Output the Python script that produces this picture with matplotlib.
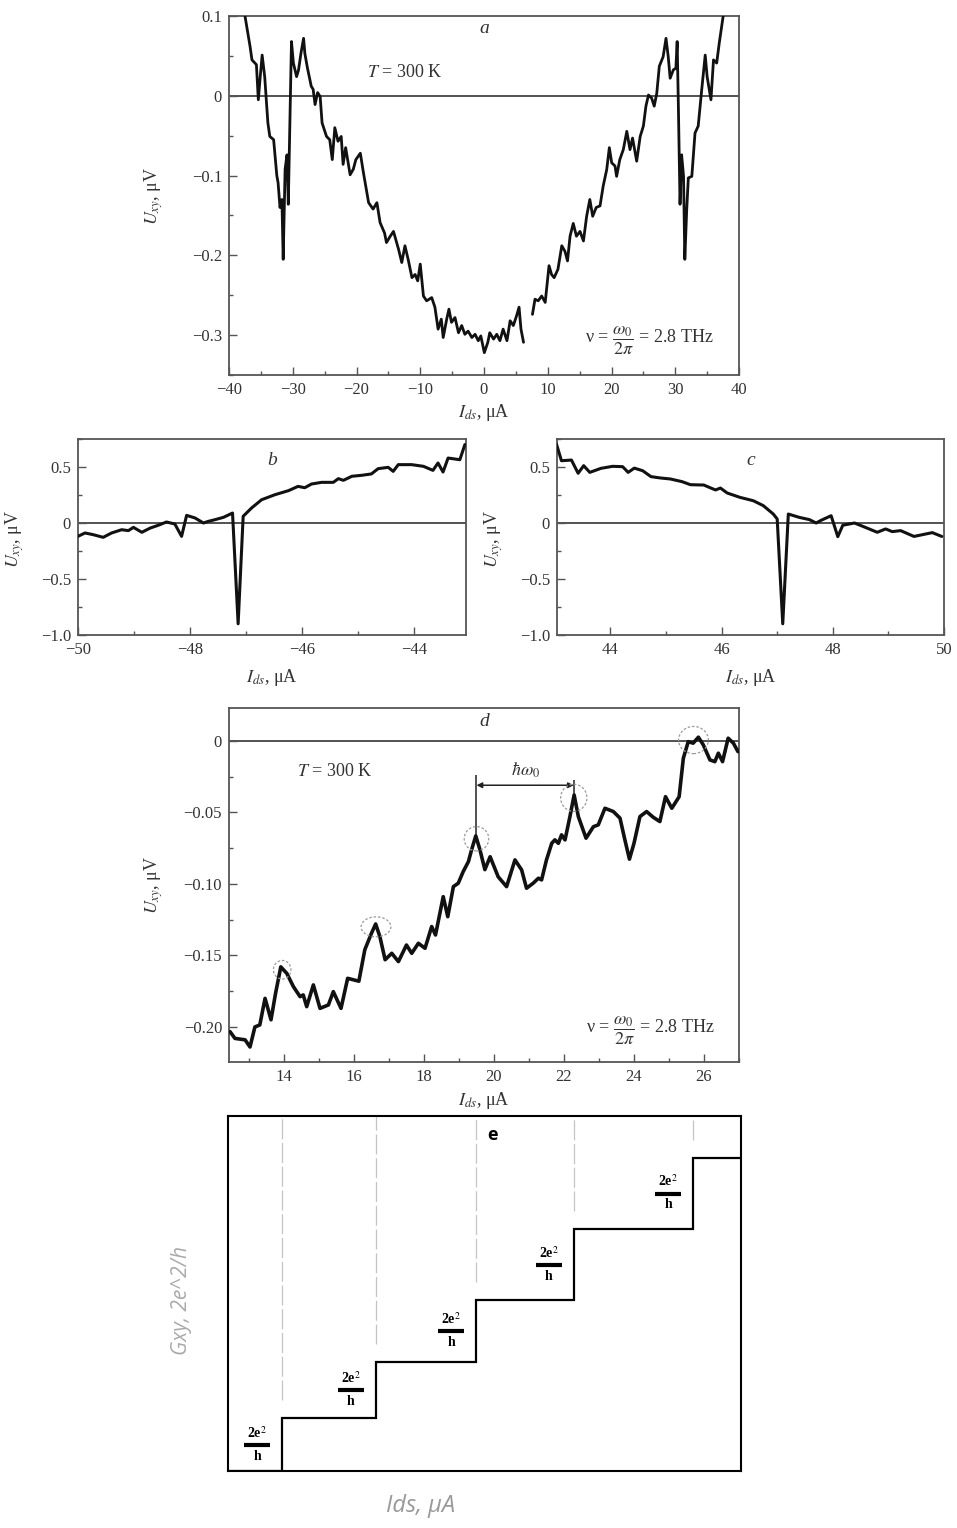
import numpy as np
import matplotlib
matplotlib.use('Agg')
import matplotlib.pyplot as plt
from matplotlib.patches import Ellipse
from matplotlib.ticker import MultipleLocator
from matplotlib.transforms import offset_copy

plt.rcParams['font.family'] = ['Liberation Serif', 'DejaVu Serif']
plt.rcParams['mathtext.fontset'] = 'stix'

# --- panel a: U_xy vs I_ds, full sweep (NaN = gap in the trace)
a_x = [-37.7, -36.7, -36.4, -35.7, -35.4, -35.1, -34.8, -34.4, -33.9, -33.6, -33.0, -32.5,
       -32.3, -32.0, -31.7, -31.5, -31.2, -30.9, -30.7, -30.4, -30.2, -29.9, -29.4, -29.1,
       -28.7, -28.3, -28.1, -27.7, -27.1, -26.8, -26.5, -26.1, -25.7, -25.4, -24.7, -24.2,
       -23.8, -23.4, -22.9, -22.4, -22.1, -21.7, -21.0, -20.5, -20.1, -19.4, -18.9, -18.1,
       -17.4, -16.8, -16.3, -15.6, -15.3, -14.7, -14.2, -13.4, -12.9, -12.4, -11.9, -11.3,
       -10.8, -10.4, -10.0, -9.5, -9.0, -8.2, -7.7, -7.2, -6.7, -6.4, -5.85, -5.5,
       -5.1, -4.55, -4.0, -3.5, -3.0, -2.5, -1.9, -1.4, -0.9, -0.5, 0.05, 0.6,
       0.9, 1.5, 2.0, 2.5, 3.0, 3.6, 4.1, 4.6, 5.1, 5.5, 5.8, 6.2,
       6.9, 7.6, 8.0, 8.5, 9.05, 9.6, 10.2, 10.6, 11.0, 11.6, 12.2, 12.7,
       13.1, 13.5, 14.0, 14.5, 15.06, 15.6, 16.1, 16.6, 17.05, 17.6, 18.2, 18.7,
       19.25, 19.66, 20.03, 20.55, 20.8, 21.3, 21.85, 22.4, 22.9, 23.3, 23.95, 24.5,
       25.0, 25.4, 25.8, 26.3, 26.7, 27.1, 27.5, 28.1, 28.55, 28.9, 29.2, 29.7,
       30.1, 30.3, 30.5, 30.75, 31.0, 31.3, 31.5, 31.8, 32.05, 32.6, 33.1, 33.6,
       34.15, 34.7, 35.0, 35.6, 36.0, 36.5, 36.9, 37.5, 37.7]
a_y = [0.11, 0.062, 0.045, 0.039, -0.005, 0.024, 0.051, 0.024, -0.034, -0.051, -0.055, -0.100,
       -0.109, -0.140, -0.130, -0.205, -0.092, -0.074, -0.136, -0.017, 0.068, 0.041, 0.024, 0.032,
       0.054, 0.072, 0.053, 0.035, 0.012, 0.008, -0.011, 0.004, -0.001, -0.034, -0.051, -0.055,
       -0.080, -0.040, -0.057, -0.051, -0.086, -0.065, -0.099, -0.092, -0.080, -0.072, -0.097, -0.134,
       -0.142, -0.134, -0.159, -0.172, -0.184, -0.176, -0.170, -0.1925, -0.209, -0.188, -0.205, -0.228,
       -0.224, -0.232, -0.211, -0.251, -0.257, -0.253, -0.265, -0.2925, -0.280, -0.303, -0.280, -0.2675,
       -0.284, -0.278, -0.297, -0.288, -0.299, -0.295, -0.303, -0.299, -0.307, -0.301, -0.322, -0.309,
       -0.297, -0.305, -0.299, -0.307, -0.2925, -0.307, -0.282, -0.288, -0.276, -0.265, -0.2925, -0.309,
       np.nan, -0.274, -0.255, -0.257, -0.251, -0.259, -0.213, -0.224, -0.228, -0.2175, -0.188, -0.195,
       -0.207, -0.176, -0.160, -0.176, -0.170, -0.182, -0.151, -0.130, -0.151, -0.140, -0.138, -0.113,
       -0.0925, -0.065, -0.084, -0.088, -0.101, -0.080, -0.0675, -0.0446, -0.0675, -0.053, -0.082, -0.051,
       -0.038, -0.013, 0.001, -0.003, -0.013, 0.003, 0.037, 0.049, 0.072, 0.049, 0.022, 0.0325,
       0.0346, 0.068, -0.0175, -0.136, -0.074, -0.101, -0.205, -0.1425, -0.103, -0.101, -0.0467, -0.038,
       0.0075, 0.051, 0.024, -0.005, 0.045, 0.041, 0.066, 0.099, 0.11]

# --- panel b: negative current end
b_x = [-50.0, -49.875, -49.73, -49.55, -49.4, -49.22, -49.1, -49.01, -48.86, -48.71, -48.57, -48.42,
       -48.27, -48.15, -48.06, -47.91, -47.76, -47.67, -47.55, -47.4, -47.24, -47.14, -47.05, -46.9,
       -46.72, -46.48, -46.24, -46.07, -45.95, -45.83, -45.65, -45.44, -45.35, -45.26, -45.11, -44.93,
       -44.76, -44.64, -44.46, -44.37, -44.28, -44.04, -43.83, -43.66, -43.57, -43.48, -43.39, -43.18,
       -43.09]
b_y = [-0.119, -0.089, -0.104, -0.128, -0.089, -0.060, -0.068, -0.039, -0.083, -0.045, -0.021, 0.009,
       -0.009, -0.119, 0.068, 0.045, 0.0, 0.015, 0.030, 0.051, 0.089, -0.90, 0.060, 0.134,
       0.208, 0.253, 0.289, 0.327, 0.315, 0.348, 0.363, 0.363, 0.396, 0.381, 0.417, 0.426,
       0.438, 0.485, 0.497, 0.461, 0.521, 0.521, 0.506, 0.470, 0.536, 0.455, 0.580, 0.565,
       0.700]

# --- panel c: positive current end
c_x = [43.03, 43.12, 43.3, 43.42, 43.52, 43.63, 43.83, 44.04, 44.22, 44.32, 44.43, 44.58,
       44.73, 44.9, 45.08, 45.29, 45.44, 45.68, 45.89, 45.98, 46.1, 46.33, 46.57, 46.75,
       46.93, 47.0, 47.1, 47.2, 47.4, 47.58, 47.7, 47.79, 47.97, 48.09, 48.18, 48.39,
       48.57, 48.8, 48.95, 49.07, 49.22, 49.46, 49.79, 49.96]
c_y = [0.705, 0.556, 0.562, 0.444, 0.512, 0.452, 0.488, 0.506, 0.503, 0.452, 0.490, 0.467,
       0.414, 0.402, 0.393, 0.369, 0.342, 0.339, 0.295, 0.312, 0.268, 0.229, 0.199, 0.155,
       0.080, 0.036, -0.90, 0.080, 0.050, 0.030, 0.0, 0.024, 0.065, -0.122, -0.020, 0.0,
       -0.036, -0.083, -0.053, -0.077, -0.068, -0.120, -0.086, -0.120]

# --- panel d: zoom 12.5..27 uA
d_x = [12.46, 12.6, 12.89, 13.03, 13.17, 13.31, 13.46, 13.63, 13.76, 13.91, 14.08, 14.27,
       14.46, 14.55, 14.65, 14.84, 15.03, 15.27, 15.41, 15.63, 15.82, 15.98, 16.14, 16.31,
       16.5, 16.62, 16.74, 16.89, 17.08, 17.27, 17.5, 17.65, 17.84, 18.03, 18.22, 18.33,
       18.55, 18.68, 18.84, 18.98, 19.12, 19.27, 19.36, 19.48, 19.6, 19.74, 19.89, 20.12,
       20.36, 20.6, 20.79, 20.93, 21.12, 21.27, 21.36, 21.5, 21.65, 21.74, 21.84, 21.93,
       22.03, 22.17, 22.29, 22.41, 22.63, 22.84, 22.98, 23.17, 23.41, 23.6, 23.74, 23.87,
       24.0, 24.17, 24.36, 24.55, 24.74, 24.9, 25.08, 25.29, 25.41, 25.55, 25.69, 25.84,
       25.98, 26.17, 26.31, 26.41, 26.53, 26.69, 26.84, 26.97]
d_y = [-0.2033, -0.208, -0.209, -0.214, -0.200, -0.1986, -0.180, -0.195, -0.1765, -0.158, -0.1625, -0.1718,
       -0.1788, -0.1776, -0.1858, -0.1706, -0.187, -0.1846, -0.1753, -0.187, -0.166, -0.167, -0.168, -0.146,
       -0.1345, -0.128, -0.1368, -0.153, -0.1485, -0.1543, -0.1427, -0.1485, -0.1415, -0.145, -0.1298, -0.1357,
       -0.1089, -0.1229, -0.1019, -0.0995, -0.0914, -0.0844, -0.0762, -0.0664, -0.0762, -0.090, -0.081, -0.095,
       -0.1019, -0.0832, -0.0902, -0.103, -0.0995, -0.096, -0.0972, -0.0832, -0.0716, -0.0692, -0.0716, -0.0657,
       -0.0692, -0.0529, -0.0378, -0.0529, -0.068, -0.060, -0.0587, -0.0471, -0.0494, -0.054, -0.0692, -0.0827,
       -0.0716, -0.0529, -0.0494, -0.0534, -0.0564, -0.039, -0.0471, -0.039, -0.0121, -0.0005, -0.0016, 0.0026,
       -0.0028, -0.0133, -0.0145, -0.0086, -0.0145, 0.0019, -0.0016, -0.0075]

# peaks marked in d = step positions in e
peak_x = [13.95, 16.63, 19.5, 22.28, 25.7]

# --- panel e: schematic conductance staircase
e_xlim = (12.4, 27.06)
e_levels = [0, 0.53, 1.09, 1.71, 2.42, 3.13]

fig = plt.figure(figsize=(9.57, 15.28), dpi=100)
W, H = 957.0, 1528.0


def add_ax(l, r, t, b):
    return fig.add_axes([l / W, 1 - b / H, (r - l) / W, (b - t) / H])


def style(ax):
    for s in ax.spines.values():
        s.set_color('#555555')
        s.set_linewidth(1.3)
    ax.tick_params(which='both', direction='in', top=False, right=False,
                   color='#555555', labelcolor='#333333', labelsize=12, width=1)
    ax.tick_params(which='major', length=6, pad=5)
    ax.tick_params(which='minor', length=3)
    ax.axhline(0, color='#444444', lw=1.3, zorder=1)


def fmt(v, pos):
    return ('%g' % v).replace('-', '\u2212')


def yfmt(nd):
    return lambda v, p: '0' if abs(v) < 1e-9 else ('%.*f' % (nd, v)).replace('-', '\u2212')


ylab = r'$U_{xy}$, μV'
xlab = r'$I_{ds}$, μA'
nu_txt = 'ν = ' + r'$\dfrac{\omega_0}{2\pi}$' + ' = 2.8 THz'
line_kw = dict(color='#111111', zorder=3, solid_joinstyle='round', solid_capstyle='round')

# a
ax = add_ax(229, 739, 16, 375)
ax.plot(a_x, a_y, lw=2.0, **line_kw)
ax.set_xlim(-40, 40)
ax.set_ylim(-0.35, 0.1)
ax.xaxis.set_major_locator(MultipleLocator(10))
ax.xaxis.set_minor_locator(MultipleLocator(5))
ax.yaxis.set_major_locator(MultipleLocator(0.1))
ax.yaxis.set_minor_locator(MultipleLocator(0.05))
ax.xaxis.set_major_formatter(fmt)
ax.yaxis.set_major_formatter(yfmt(1))
style(ax)
ax.set_xlabel(xlab, fontsize=13, color='#333333')
ax.set_ylabel(ylab, fontsize=13, color='#333333')
ax.xaxis.set_label_coords(0.5, -0.075)
ax.yaxis.set_label_coords(-0.125, 0.5)
ax.text(0.5, 0.964, 'a', transform=ax.transAxes, ha='center', va='center',
        fontsize=14, style='italic', color='#333333')
ax.text(-12.4, 0.029, r'$T$ = 300 K', ha='center', va='center', fontsize=13, color='#333333')
ax.text(26.0, -0.307, nu_txt, ha='center', va='center', fontsize=13, color='#333333')

# b and c
for l, r, xs, ys, xl, lab, ticks in [(78, 466, b_x, b_y, (-50, -43.07), 'b', [-50, -48, -46, -44]),
                                      (557, 944, c_x, c_y, (43.04, 50), 'c', [44, 46, 48, 50])]:
    ax = add_ax(l, r, 439, 635)
    ax.plot(xs, ys, lw=2.2, **line_kw)
    ax.set_xlim(*xl)
    ax.set_ylim(-1.0, 0.75)
    ax.set_xticks(ticks)
    ax.xaxis.set_minor_locator(MultipleLocator(1))
    ax.yaxis.set_major_locator(MultipleLocator(0.5))
    ax.yaxis.set_minor_locator(MultipleLocator(0.25))
    ax.xaxis.set_major_formatter(fmt)
    ax.yaxis.set_major_formatter(yfmt(1))
    style(ax)
    ax.set_xlabel(xlab, fontsize=13, color='#333333')
    ax.set_ylabel(ylab, fontsize=13, color='#333333')
    ax.xaxis.set_label_coords(0.5, -0.165)
    ax.yaxis.set_label_coords(-0.134, 0.49)
    ax.text(0.5, 0.892, lab, transform=ax.transAxes, ha='center', va='center',
            fontsize=14, style='italic', color='#333333')

# d
ax = add_ax(229, 739, 708, 1062)
ax.plot(d_x, d_y, lw=2.6, **line_kw)
ax.set_xlim(12.43, 27.0)
ax.set_ylim(-0.2245, 0.023)
ax.xaxis.set_major_locator(MultipleLocator(2))
ax.xaxis.set_minor_locator(MultipleLocator(1))
ax.yaxis.set_major_locator(MultipleLocator(0.05))
ax.yaxis.set_minor_locator(MultipleLocator(0.025))
ax.xaxis.set_major_formatter(fmt)
ax.yaxis.set_major_formatter(yfmt(2))
style(ax)
ax.set_xlabel(xlab, fontsize=13, color='#333333')
ax.set_ylabel(ylab, fontsize=13, color='#333333')
ax.xaxis.set_label_coords(0.5, -0.079)
ax.yaxis.set_label_coords(-0.125, 0.5)
ax.text(0.5, 0.963, 'd', transform=ax.transAxes, ha='center', va='center',
        fontsize=14, style='italic', color='#333333')
ax.text(15.46, -0.0217, r'$T$ = 300 K', ha='center', va='center', fontsize=13, color='#333333')
ax.text(24.46, -0.203, nu_txt, ha='center', va='center', fontsize=13, color='#333333')

peak_y = [max(y for x, y in zip(d_x, d_y) if abs(x - p) < 0.3) for p in peak_x]
sizes = [(0.5, 0.013), (0.85, 0.014), (0.7, 0.017), (0.75, 0.019), (0.85, 0.019)]
for px, py, (w, h) in zip(peak_x, peak_y, sizes):
    ax.add_patch(Ellipse((px, py - 0.002), w, h, fill=False, ec='#9a9a9a', lw=0.9,
                         ls=(0, (2, 1.5)), zorder=4))
# hbar omega bracket between the 3rd and 4th peaks
ax.vlines(peak_x[2], peak_y[2], -0.024, color='#222222', lw=1.1)
ax.vlines(peak_x[3], peak_y[3], -0.027, color='#222222', lw=1.1)
ax.annotate('', xy=(peak_x[2], -0.031), xytext=(peak_x[3], -0.031),
            arrowprops=dict(arrowstyle='<|-|>', color='#222222', lw=1.1,
                            mutation_scale=8, shrinkA=0, shrinkB=0))
ax.text((peak_x[2] + peak_x[3]) / 2, -0.0205, r'$\hbar\omega_0$', ha='center', va='center',
        fontsize=13, color='#333333')

# e
ax = add_ax(228, 741, 1116, 1471)
edges = [e_xlim[0]] + peak_x + [e_xlim[1]]
ax.stairs(e_levels, edges, baseline=None, color='black', lw=1.6, zorder=3)
ax.set_xlim(*e_xlim)
ax.set_ylim(0, 3.55)
ax.set_xticks([])
ax.set_yticks([])
for s in ax.spines.values():
    s.set_color('black')
    s.set_linewidth(1.5)
ax.vlines(peak_x, np.array(e_levels[1:]) + 0.18, 3.55, color='#c4c4c4', lw=0.9,
          linestyles=[(0, (16, 3))])
for i, px in enumerate(peak_x):
    my = (e_levels[i] + e_levels[i + 1]) / 2
    ax.plot(px, my, marker='_', ms=19, mew=3, color='black', clip_on=False,
            transform=offset_copy(ax.transData, fig=fig, x=-25, y=0, units='dots'))
    ax.text(px, my, '2e$^2$', ha='center', va='bottom', fontsize=10, fontweight='bold',
            transform=offset_copy(ax.transData, fig=fig, x=-25, y=4, units='dots'))
    ax.text(px, my, 'h', ha='center', va='top', fontsize=10, fontweight='bold',
            transform=offset_copy(ax.transData, fig=fig, x=-25, y=-5, units='dots'))
ax.text(0.515, 0.946, 'e', transform=ax.transAxes, ha='center', va='center',
        fontsize=13, fontweight='bold', family=['Open Sans', 'DejaVu Sans'])
ax.set_ylabel('Gxy, 2e^2/h', fontsize=15, color='#aaaaaa', style='italic',
              family=['Open Sans', 'DejaVu Sans'])
ax.set_xlabel('Ids, µA', fontsize=17, color='#999999', style='italic',
              family=['Open Sans', 'DejaVu Sans'])
ax.yaxis.set_label_coords(-0.07, 0.48)
ax.xaxis.set_label_coords(0.376, -0.065)

fig.savefig('out.png', dpi=100)
